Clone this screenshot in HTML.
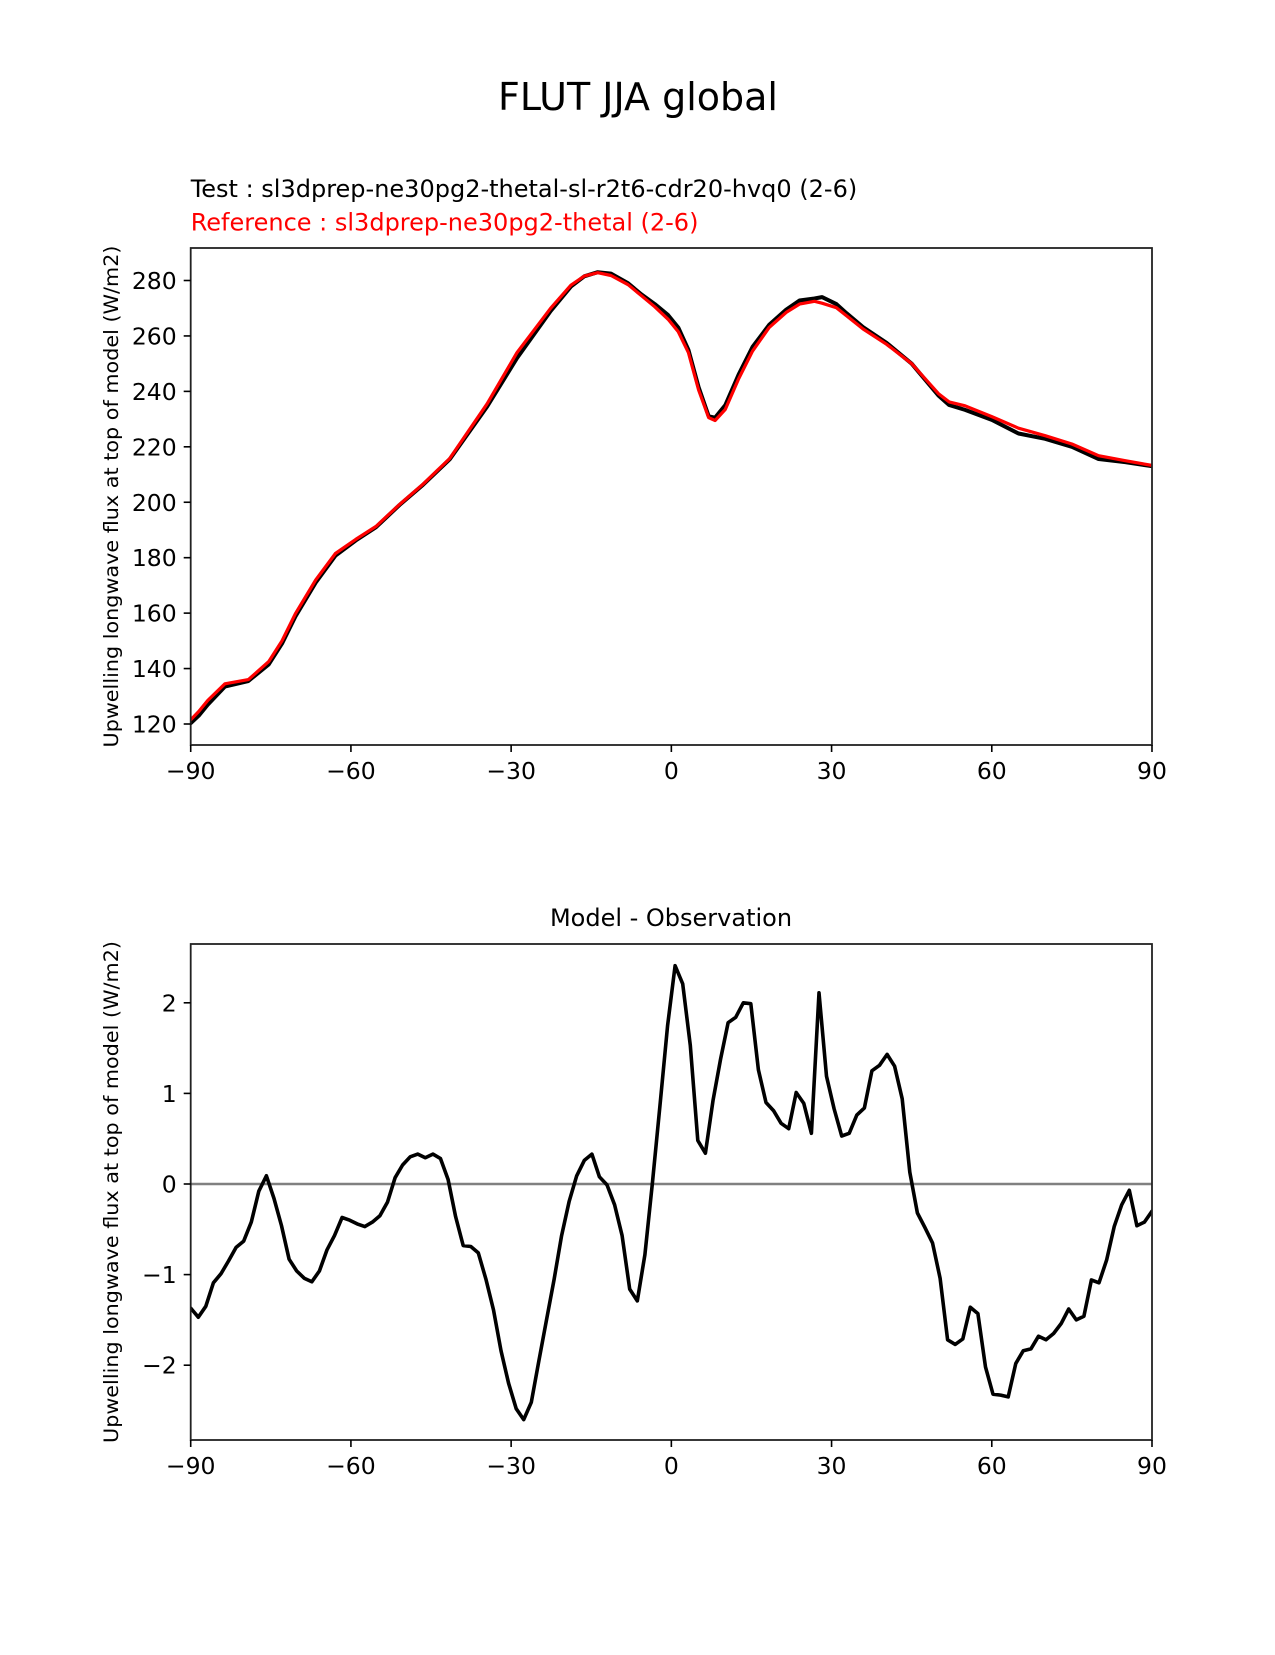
<!DOCTYPE html>
<html><head><meta charset="utf-8"><style>
html,body{margin:0;padding:0;background:#fff}
svg text{font-family:"DejaVu Sans","Liberation Sans",sans-serif}
</style></head><body>
<svg id="fig" width="1275" height="1650" viewBox="0 0 1275 1650" xmlns="http://www.w3.org/2000/svg">
<rect width="1275" height="1650" fill="#fff"/>
<text x="638" y="110" font-size="38" text-anchor="middle">FLUT JJA global</text>
<text x="190.7" y="197" font-size="24">Test : sl3dprep-ne30pg2-thetal-sl-r2t6-cdr20-hvq0 (2-6)</text>
<text x="190.7" y="230.5" font-size="24" fill="#ff0000">Reference : sl3dprep-ne30pg2-thetal (2-6)</text>
<text x="671" y="926" font-size="24" text-anchor="middle">Model - Observation</text>
<g id="top"></g>
<g id="bot"></g>
</svg>
<script>
const topLat = [-90,-88.5,-86.8,-83.6,-79.2,-75.4,-72.9,-70.4,-66.6,-62.9,-59.1,-55.3,-50.9,-46.5,-41.5,-37.7,-34.5,-28.9,-22.6,-18.8,-16.3,-13.8,-11.3,-8.1,-5.6,-3.1,-0.6,1.3,3.2,5.1,7.0,8.2,10.1,12.6,15.2,18.3,21.5,24,26.8,28.2,30.9,32.8,35.9,40.3,45,50,52,55,60,65,70,75,80,85,90];
const testVals = [120.3,123,127,133.5,135.5,141.5,149,158.8,171,180.7,186.2,191,199,206.3,215.5,225.8,234.5,252,269,277.8,281.5,283,282.5,279,275,271.5,267.5,263,255,241.5,231,230.5,235,246,256,264,269.5,272.8,273.5,274,271.5,268.2,263.2,257.5,250,238.5,235.1,233.3,229.7,224.8,222.9,220,215.6,214.5,213];
const refVals = [121.5,124.5,128.5,134.5,136,142.5,150,159.8,172,181.5,186.6,191.3,199.2,206.5,215.8,226.5,235.5,254,270,278.3,281.6,282.8,281.8,278.5,274.5,270.5,266,261.5,254,240.5,230.5,229.5,233.5,244.5,254.5,263,268.5,271.5,272.5,271.8,270.2,267.3,262.5,257,250,239.2,236.2,234.8,230.9,226.7,224,221,216.8,215,213.3];
const diffVals = [-1.37,-1.47,-1.35,-1.09,-0.99,-0.85,-0.70,-0.63,-0.42,-0.08,0.09,-0.16,-0.46,-0.83,-0.96,-1.04,-1.08,-0.96,-0.73,-0.57,-0.37,-0.40,-0.44,-0.47,-0.42,-0.35,-0.20,0.07,0.21,0.30,0.33,0.29,0.33,0.28,0.05,-0.36,-0.68,-0.69,-0.76,-1.05,-1.39,-1.84,-2.20,-2.48,-2.60,-2.41,-1.95,-1.50,-1.06,-0.57,-0.19,0.09,0.26,0.33,0.08,-0.01,-0.23,-0.57,-1.16,-1.29,-0.78,0.01,0.87,1.75,2.41,2.21,1.53,0.48,0.34,0.92,1.38,1.78,1.84,2.0,1.99,1.26,0.90,0.81,0.67,0.61,1.01,0.89,0.56,2.11,1.19,0.83,0.53,0.56,0.76,0.84,1.25,1.31,1.43,1.30,0.94,0.13,-0.32,-0.48,-0.65,-1.04,-1.72,-1.77,-1.71,-1.36,-1.43,-2.02,-2.32,-2.33,-2.35,-1.98,-1.84,-1.82,-1.68,-1.72,-1.65,-1.54,-1.38,-1.50,-1.46,-1.06,-1.09,-0.84,-0.47,-0.23,-0.07,-0.46,-0.42,-0.30];
const diffLat = [];
for (let i = 0; i < diffVals.length; i++) diffLat.push(-90 + i * 180 / (diffVals.length - 1));
const xTicks = [-90,-60,-30,0,30,60,90];
const xTickLabels = ["\u221290","\u221260","\u221230","0","30","60","90"];
const topYTicks = [120,140,160,180,200,220,240,260,280];
const botYTicks = [-2,-1,0,1,2];
const botYTickLabels = ["\u22122","\u22121","0","1","2"];

const NS = "http://www.w3.org/2000/svg";
const L = 190.7, R = 1152;
const xs = lat => L + (lat + 90) * (R - L) / 180;
function mk(tag, attrs, parent) {
  const e = document.createElementNS(NS, tag);
  for (const k in attrs) e.setAttribute(k, attrs[k]);
  parent.appendChild(e);
  return e;
}
function axes(g, top, bot, ys, yTicks, yLabels, name) {
  for (let i = 0; i < xTicks.length; i++) {
    const x = xs(xTicks[i]);
    const t = mk("line", {x1: x, x2: x, y1: bot, y2: bot + 7, stroke: "#000", "stroke-width": 1.6}, g);
    
    
    const tx = mk("text", {x: x, y: bot + 34, "font-size": 23.5, "text-anchor": "middle"}, g);
    
    
    tx.textContent = xTickLabels[i];
  }
  for (let i = 0; i < yTicks.length; i++) {
    const y = ys(yTicks[i]);
    const t = mk("line", {x1: L - 7, x2: L, y1: y, y2: y, stroke: "#000", "stroke-width": 1.6}, g);
    
    
    const tx = mk("text", {x: L - 14, y: y + 8.5, "font-size": 23.5, "text-anchor": "end"}, g);
    
    
    tx.textContent = yLabels[i];
  }
  const cy = (top + bot) / 2;
  const yl = mk("text", {x: 0, y: 0, "font-size": 19.5, "text-anchor": "middle", transform: "translate(118," + cy + ") rotate(-90)", textLength: 502, lengthAdjust: "spacingAndGlyphs"}, g);
  
  
  yl.textContent = "Upwelling longwave flux at top of model (W/m2)";
}
function frame(g, top, bot, name) {
  const f = mk("rect", {x: L, y: top, width: R - L, height: bot - top, fill: "none", stroke: "#222", "stroke-width": 1.8}, g);
  
  
}
function line(g, lats, vals, ys, color, w, name) {
  const pts = lats.map((la, i) => xs(la).toFixed(1) + "," + ys(vals[i]).toFixed(1)).join(" ");
  const p = mk("polyline", {points: pts, fill: "none", stroke: color, "stroke-width": w, "stroke-linejoin": "round", "stroke-linecap": "round"}, g);
  
  
}
// top plot
const T1 = 248, B1 = 745;
const ysTop = v => 724 - (v - 120) * (724 - 280.5) / 160;
const gTop = document.getElementById("top");
const cp = mk("clipPath", {id: "c1"}, gTop);
mk("rect", {x: L, y: T1, width: R - L, height: B1 - T1}, cp);
const lg1 = mk("g", {"clip-path": "url(#c1)"}, gTop);
line(lg1, topLat, testVals, ysTop, "#000", 4, "test-series-line");
line(lg1, topLat, refVals, ysTop, "#ff0000", 3.2, "reference-series-line");
frame(gTop, T1, B1, "top");
axes(gTop, T1, B1, ysTop, topYTicks, topYTicks.map(String), "top");
// bottom plot
const T2 = 944, B2 = 1440;
const ysBot = v => 1184 - v * 90.6;
const gBot = document.getElementById("bot");
const cp2 = mk("clipPath", {id: "c2"}, gBot);
mk("rect", {x: L, y: T2, width: R - L, height: B2 - T2}, cp2);
const lg2 = mk("g", {"clip-path": "url(#c2)"}, gBot);
const z = mk("line", {x1: L, x2: R, y1: ysBot(0), y2: ysBot(0), stroke: "#808080", "stroke-width": 2.4}, lg2);


line(lg2, diffLat, diffVals, ysBot, "#000", 3.6, "difference-line");
frame(gBot, T2, B2, "bottom");
axes(gBot, T2, B2, ysBot, botYTicks, botYTickLabels, "bottom");
</script>
</body></html>
